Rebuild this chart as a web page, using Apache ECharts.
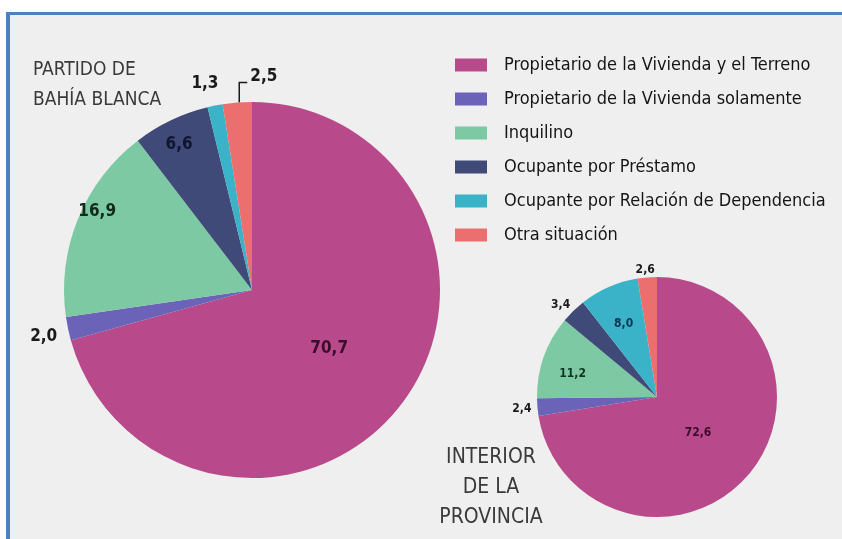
<!DOCTYPE html>
<html>
<head>
<meta charset="utf-8">
<script src="https://cdn.jsdelivr.net/npm/echarts@6/dist/echarts.min.js"></script>
<style>
  html, body { margin: 0; padding: 0; background: #fff; }
  #chart { width: 842px; height: 539px; }
</style>
</head>
<body>
<div id="chart"></div>
<script>
// categorias (leyenda)
const categories = [
  'Propietario de la Vivienda y el Terreno',
  'Propietario de la Vivienda solamente',
  'Inquilino',
  'Ocupante por Préstamo',
  'Ocupante por Relación de Dependencia',
  'Otra situación'
];
// porcentajes
const bahiaBlanca = [70.7, 2.0, 16.9, 6.6, 1.3, 2.5];
const interior = [72.6, 2.4, 11.2, 3.4, 8.0, 2.6];

const COLORS = ['#b84a8b', '#6a63b8', '#7dc9a3', '#3f4a78', '#3ab3c9', '#ec6f6f'];
const FONT = "'Liberation Sans Narrow', 'DejaVu Sans Condensed', 'Roboto', sans-serif";

// ubicacion de etiquetas por porcion (solo estilo)
const bigLabels = [
  { position: 'inside', color: '#3a0d2c' },
  { position: 'outside', offset: [4, 6] },
  { position: 'inside', offset: [-65, -42], color: '#102a1c' },
  { position: 'inside', offset: [-31, -58], color: '#0e1630' },
  { position: 'inside', offset: [-28, -111] },
  { position: 'outside' }
];
const smallLabels = [
  { position: 'inside', offset: [-7, -5], color: '#3a0d2c' },
  { position: 'outside', offset: [5, 1] },
  { position: 'inside', offset: [-25, -2], color: '#0d3520' },
  { position: 'outside', offset: [6, -2] },
  { position: 'inside', offset: [-8, -15], color: '#0d3350' },
  { position: 'outside', offset: [13, -2] }
];

const fmt = v => v.toFixed(1).replace('.', ',');

function buildData(values, labels) {
  return values.map((v, i) => ({
    name: categories[i],
    value: v,
    label: labels[i]
  }));
}

const chart = echarts.init(document.getElementById('chart'), null, { renderer: 'canvas' });

chart.setOption({
  backgroundColor: '#ffffff',
  color: COLORS,
  animation: false,
  graphic: [
    { type: 'rect', shape: { x: 6, y: 12, width: 842, height: 540 }, style: { fill: '#efefef' }, z: -10 },
    { type: 'rect', shape: { x: 6, y: 12, width: 842, height: 3 }, style: { fill: '#4f81c1' }, z: -9 },
    { type: 'rect', shape: { x: 6, y: 12, width: 4, height: 540 }, style: { fill: '#4f81c1' }, z: -9 }
  ],
  title: [
    {
      text: 'PARTIDO DE\nBAHÍA BLANCA',
      left: 28,
      top: 50,
      textStyle: { fontFamily: FONT, fontSize: 19, fontWeight: 'normal', color: '#3a3a3a', lineHeight: 30 }
    },
    {
      text: 'INTERIOR\nDE LA\nPROVINCIA',
      left: 486,
      top: 438,
      textAlign: 'center',
      textStyle: { fontFamily: FONT, fontSize: 21, fontWeight: 'normal', color: '#3a3a3a', lineHeight: 30, align: 'center' }
    }
  ],
  legend: {
    orient: 'vertical',
    left: 450,
    top: 51,
    icon: 'rect',
    itemWidth: 32,
    itemHeight: 13,
    itemGap: 16,
    data: categories,
    textStyle: { fontFamily: FONT, fontSize: 18, color: '#151515', padding: [0, 0, 0, 12] }
  },
  series: [
    {
      name: 'Partido de Bahía Blanca',
      type: 'pie',
      center: [252, 290],
      radius: 188,
      startAngle: 90,
      clockwise: true,
      silent: true,
      label: {
        formatter: p => fmt(p.value),
        fontFamily: FONT,
        fontSize: 17,
        fontWeight: 'bold',
        color: '#1a1a1a'
      },
      labelLine: { show: false, length: 10, length2: 0, lineStyle: { color: '#1a1a1a', width: 1.5 } },
      // "2,5" lleva una linea en escuadra hacia la derecha
      labelLayout: p => {
        if (p.dataIndex !== 5) return {};
        const e = p.labelLinePoints[0];
        const top = e[1] - 20;
        return {
          x: e[0] + 13,
          y: top - 6,
          align: 'left',
          verticalAlign: 'middle',
          labelLinePoints: [[e[0] + 2, e[1]], [e[0] + 2, top], [e[0] + 10, top]]
        };
      },
      data: buildData(bahiaBlanca, bigLabels).map((d, i) =>
        i === 5 ? Object.assign(d, { labelLine: { show: true } }) : d)
    },
    {
      name: 'Interior de la Provincia',
      type: 'pie',
      center: [657, 397],
      radius: 120,
      startAngle: 90,
      clockwise: true,
      silent: true,
      label: {
        formatter: p => fmt(p.value),
        fontFamily: FONT,
        fontSize: 12,
        fontWeight: 'bold',
        color: '#1a1a1a'
      },
      labelLine: { show: false, length: 6, length2: 0 },
      data: buildData(interior, smallLabels)
    }
  ]
});
</script>
</body>
</html>
